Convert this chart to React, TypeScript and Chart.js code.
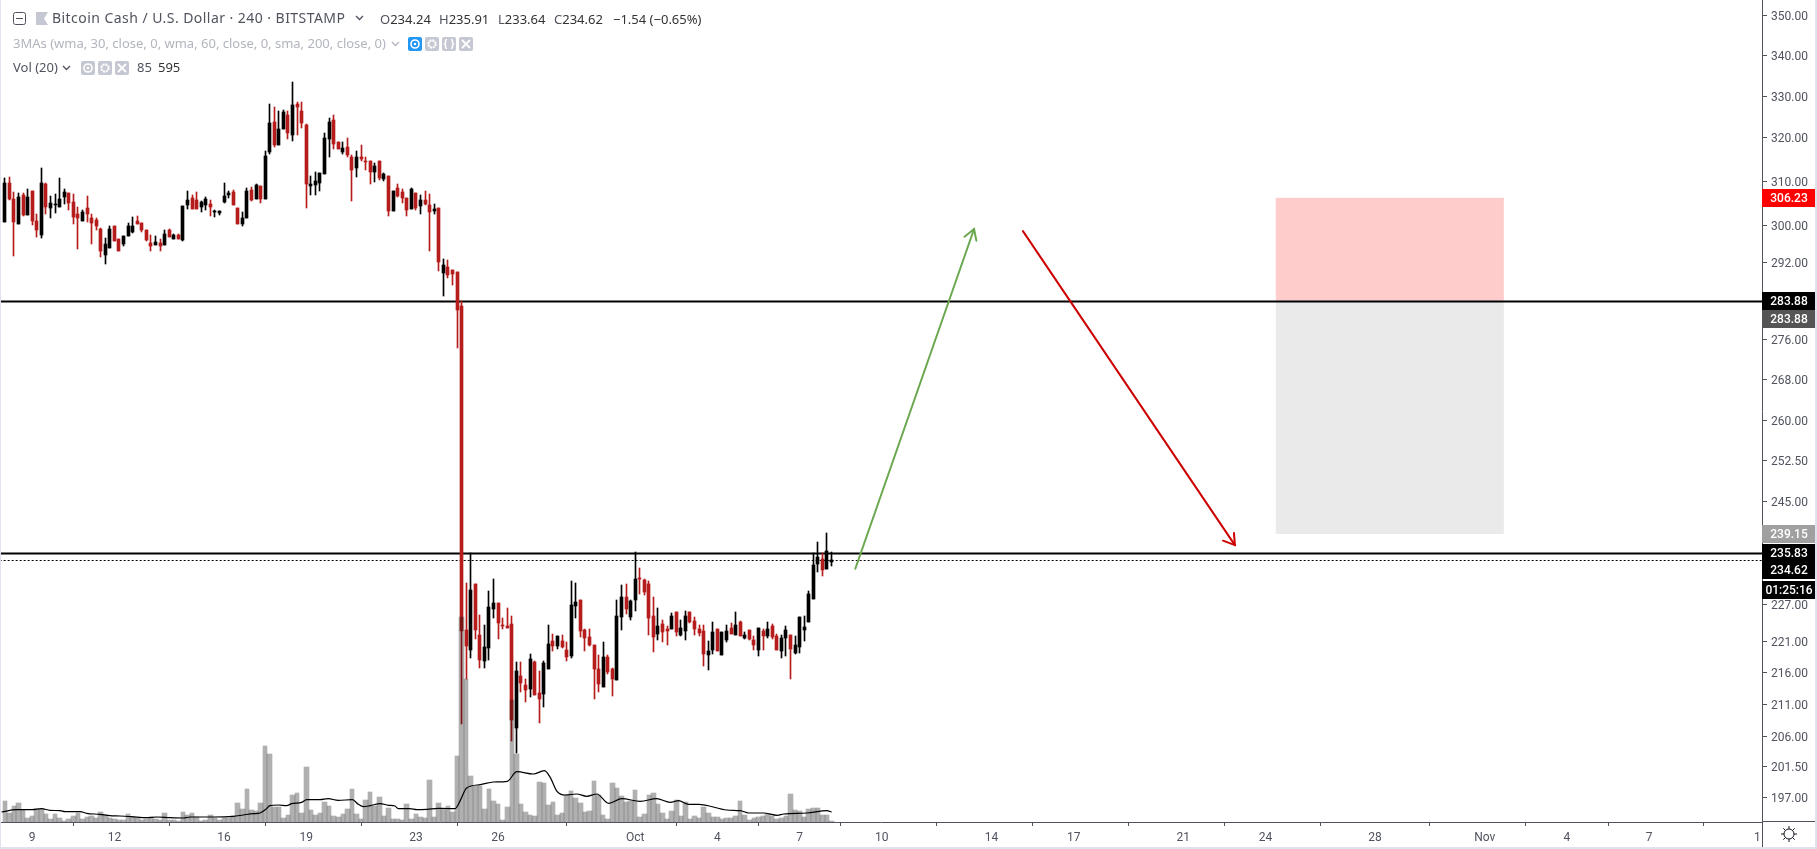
import React, { useEffect, useRef } from "react";
import { Chart, registerables } from "chart.js";

Chart.register(...registerables);

const firstBar = -6;

const highs = [
  310.8,310.9,307.5,307.2,307.2,308.1,307.7,302.6,313,309.55,
  306.6,307.05,310.7,308.2,307.3,307.05,304.15,303.5,306.6,302.6,
  301.7,299.5,297.3,299.95,299.95,297.05,297.7,300.6,301.95,302.15,
  300.6,299.05,297.95,297.7,297.05,299.05,299.3,298.15,298.15,304.4,
  307.7,306.85,307.5,305.5,306.4,305.7,303.5,303.25,309.55,307.7,
  308,303.95,303.05,308.4,308.65,309.3,308.9,316.9,328.06,327.3,
  326.4,326.63,326.4,333.4,328.5,328.5,323.3,311.15,312.1,311.85,
  321.15,324.7,325.4,319,319,320,316,316.9,318.3,315.55,
  314.6,314.15,314.6,311.85,311.15,307.7,309.3,308.2,306.15,308.4,
  307.3,306.85,307.7,307.05,304.85,303.95,292.75,292.5,290.3,289.9,
  283.85,
  230.6,235.75,230.5,225.3,223.65,229.3,231.35,227.3,224.8,226.45,
  225.1,217.65,217.65,214.95,218.95,217.8,216.2,217.8,223.65,222.2,
  221.85,222,220.9,231,230.65,227.8,223,223,220.4,218.8,
  220.9,218.8,216.7,227.8,230.35,230.5,227.8,236,233.25,231.35,
  231,228.3,226.45,224.45,223.45,225.6,225.8,224.45,225.95,225.8,
  224.95,223.65,223.65,221.05,224.1,223,222.5,223.65,223.95,225.8,
  224.3,222.5,222.85,221.85,223.15,223,224.1,223.8,222.2,222,
  223.45,222,221.85,224.95,225.1,229.3,235.8,237.7,235.8,239.3,235.91,
];
const lows = [
  300.9,305.7,293.45,300.45,302.2,302.4,300.15,297.55,297.35,302.6,
  301.8,302.9,304.15,304.85,303.5,300.4,294.8,301.05,300.8,295.9,
  299.05,293.2,291.6,295,296.6,294.35,295.45,297.7,298.4,300.4,
  298.6,296.6,294.55,295.7,294.55,295.7,297.5,297.05,297.05,296.6,
  303.7,303.7,303.7,303.05,303.5,302.15,301.95,302.4,305.05,306.15,
  304.6,300.4,299.95,301.7,305.5,305.95,305.05,305.95,316.25,317.85,
  318.3,322.1,319.7,319.25,320.7,322.35,303.95,306.85,306.85,307.7,
  311.6,315.55,317.4,317.4,316.25,315.55,305.5,310.9,314.6,312.55,
  309.3,309.8,310.25,310,302.15,303.25,306.4,305.05,302.15,303.7,
  303.5,302.6,304.6,294.35,302.6,290.1,284.9,288.7,287.2,274.2,
  207.9,
  214.9,218.3,221.4,216.7,216.7,218,224.8,221.4,223,223.15,
  205.4,203.5,212.9,211.35,212.1,212.4,208.1,210.55,216.55,219.45,
  219.75,219.9,217.8,218.3,224.8,221.7,219.45,220.25,211.8,212.9,
  213.65,215.75,212.25,214.8,222.85,225.45,224.45,225.95,228.8,228.65,
  222,219.25,221.2,220.9,220.4,223,221.85,221.85,221.2,223.95,
  222,221.85,217,216.35,218.95,219.45,218.8,220.9,222.2,222,
  221.85,221.4,221.2,219.6,218.6,219.6,221.55,221.4,219.6,218.3,
  218.6,214.9,218.95,219.1,221.05,224.1,228,232.55,231.9,233.05,233.64,
];
const opens = [
  300.9,309.55,305.95,300.45,306.85,302.4,307.7,301.05,297.95,309.3,
  303.95,304.6,304.15,306.4,307.3,305.25,302.6,301.05,303.95,301.7,
  301.25,299.3,293.65,295,299.95,297.05,295.9,297.7,298.6,301.05,
  300.6,299.05,296.15,295.7,296.15,295.7,299.05,297.05,297.95,296.85,
  304.6,306.15,305.7,304.15,304.6,304.85,303.1,302.85,305.25,306.85,
  307.5,303.95,300.4,301.7,308,305.95,308.9,305.95,316.7,323.8,
  318.3,322.1,325.4,320.7,328.06,326.4,323.05,308.9,309.1,309.55,
  311.6,319.7,324.25,319,316.7,317.85,315.55,313,315.55,314.6,
  314.6,312.1,314.6,310.5,311.15,303.25,308.4,307.5,306.15,303.7,
  307.3,304.4,305.7,304.6,303.25,303.95,289.65,290.95,290.3,289.9,
  282.8,
  222.85,219.6,230.5,222,217.8,219.9,226.3,227.3,223.65,223.45,
  223.8,207.35,215.4,214,213.35,217.65,212.7,212.55,216.55,221.05,
  220.25,221.05,219.6,218.6,226.8,227.8,222.85,221.7,220.4,216.55,
  213.65,218.45,216.55,214.8,224.95,228.3,224.95,227.8,231.55,231.2,
  230.5,225.1,222.2,223.8,223,223,225.8,222,222.65,225.8,
  224.3,223,222.65,218.8,219.6,223,218.8,221.2,223.15,222,
  224.1,221.55,222.85,221.2,219.6,222.65,221.85,223.45,221.85,219.45,
  221.55,222,219.1,220.1,222.85,224.1,228,233.9,234.8,233.05,234.24,
];
const closes = [
  309.55,305.95,300.8,306.4,302.4,306.4,301.05,299.05,309.55,304.2,
  305.05,304.85,305.95,307.5,305.05,301.95,301.7,303.05,302.6,300.6,
  299.95,294.35,295.9,299.3,296.6,294.35,297.7,299.95,299.95,300.4,
  299.05,296.85,295.45,296.4,295.45,298.15,297.5,297.95,297.05,304.4,
  305.7,303.7,303.7,305.25,305.95,304.15,303.25,303.2,306.6,307.3,
  304.6,300.4,301.7,307.7,305.7,309.1,305.95,315.8,323.5,318.3,
  322.1,326.15,321.15,327.8,327.3,323.5,309.3,309.3,310,311.85,
  320,323.8,318.55,317.4,317.6,316,312.55,315.55,315.1,314.45,
  312.1,313.45,310.7,311.6,303.25,307.7,306.6,306.15,303.5,308.2,
  303.95,305.7,304.85,303.05,303.7,292.05,291.4,289.25,289.45,282,
  222.7,
  220.25,229.5,222.85,218,220.1,226.6,227.3,223.95,223.45,223.15,
  208.55,216.2,214.3,213.2,218.15,212.4,211.8,217.5,220.55,220.25,
  221.85,220.1,218.45,227,227.5,222.65,221.55,220.4,216.55,214.1,
  218.45,216.05,214.95,225.1,228.3,226.3,227.65,231.35,231.35,229.15,
  224.8,221.7,223.45,222.5,222.65,225.1,222.5,223.15,225.1,224.1,
  223,222.35,218.95,219.45,222.5,219.45,222.5,222.65,222.2,223.65,
  221.85,222,221.4,220.4,223.15,221.85,223,221.7,219.6,221.55,
  222.85,219.75,220.4,224.95,223.3,228.8,233.75,235.1,232.9,236.15,234.62,
];
const volumes = [
  1240,560,940,1120,700,240,340,760,760,500,
  160,460,240,60,180,340,540,200,280,340,
  260,580,400,260,180,140,100,460,300,220,
  140,180,300,180,140,520,120,100,60,580,
  440,560,300,60,140,400,260,140,260,260,
  340,1120,760,1960,740,660,1120,4540,4060,900,
  900,260,400,1600,1720,520,3280,700,400,520,
  1180,940,340,280,460,760,1960,460,160,1300,
  1780,940,1480,340,820,160,160,140,1060,160,
  460,280,220,2500,280,1120,820,940,600,3940,
  12280,8600,2780,2180,2180,780,2000,1280,1080,140,920,
  7340,4080,1100,620,440,380,2420,2360,1040,1220,
  440,560,1640,1880,1460,1160,620,680,2480,1640,
  440,200,2360,2060,1580,1220,1280,1940,320,500,
  1640,1760,1100,560,200,680,1340,380,1220,200,
  380,260,920,560,320,320,200,260,220,380,
  1280,440,140,220,320,380,500,380,200,260,
  380,1700,740,680,320,800,860,860,440,440,85,
];
const volMaBars = [
  -6.7,-3.4,0,2,3.9,6.1,7.2,10.5,11.9,14.8,17,19.2,21.8,25,27.3,30.2,33.1,34.6,39.7,44,46.2,48.4,49.9,51.3,52,53.9,
  55.7,56.8,59,60.1,63,64.8,67,70.1,71.4,72.5,74,76.2,78,79.4,80.2,82.7,84.2,86.4,88.9,92.2,92.6,93.7,95.1,98.1,
  101,104,106.1,109.7,112.1,113.4,114.9,116.7,119.2,121.4,123.6,126.2,129.1,133.1,136.7,139.7,141.5,143.7,145.9,
  152.1,155,156.9,160.1,163.1,164.5,169.6,174,175,
];
const volMaValues = [
  600,740,740,800,700,680,620,620,520,460,380,360,320,260,300,260,240,300,300,340,420,500,540,800,980,1020,
  980,1100,1180,1340,1340,1400,1300,1340,1060,920,980,1100,1000,960,800,800,740,760,820,800,800,1280,2040,2240,
  2400,2440,3020,2880,3080,2680,1840,1620,1680,1540,1680,1120,1400,1240,1400,1180,1280,1060,1060,
  720,680,540,540,400,480,540,680,595,
];

const xTickBars = [0,18,42,60,84,102,132,150,168,186,210,228,252,270,294,318,336,354,377.7];
const xTickLabels = ["9","12","16","19","23","26","Oct","4","7","10","14","17","21","24","28","Nov","4","7","1"];
const yTicks = [350,340,330,320,310,300,292,276,268,260,252.5,245,227,221,216,211,206,201.5,197];

const entryLevel = 283.88;
const stopLevel = 306.23;
const targetLevel = 239.15;
const resistanceLevel = 235.83;
const lastPrice = 234.62;
const boxBars = [272.2, 322.2];
const greenArrowBars = [180.2, 206.2];
const greenArrowPrices = [233.1, 299.26];
const greenHeadBars = [204.1, 206.2, 206.7];
const greenHeadPrices = [297.57, 299.26, 296.7];
const redArrowBars = [216.9, 263.3];
const redArrowPrices = [298.8, 237.2];
const redHeadBars = [260.7, 263.3, 263.1];
const redHeadPrices = [237.97, 237.2, 239.3];

const tagTexts = ["306.23","283.88","283.88","239.15","235.83","234.62","01:25:16"];
const tagPrices = [stopLevel,entryLevel,entryLevel,targetLevel,resistanceLevel,lastPrice,lastPrice];
const tagShifts = [0,0,18,0,0,10,30];
const tagColors = ["#ff0000","#000000","#555555","#a0a0a0","#000000","#000000","#000000"];

const UP = "#000000";
const DOWN = "#b71c1c";
const TEXT = "#50535e";
const UI_FONT = "'Noto Sans', sans-serif";
const AXIS_FONT = "Roboto, sans-serif";

const barX = (i: number) => i + firstBar;
const colorOf = (i: number) => (closes[i] >= opens[i] ? UP : DOWN);

const snapPlugin = {
  id: "snap",
  afterDatasetsUpdate(chart: any) {
    const half = (chart.scales.x.getPixelForValue(1) - chart.scales.x.getPixelForValue(0)) / 2;
    chart.data.datasets.forEach((ds: any, di: number) => {
      const meta = chart.getDatasetMeta(di);
      if (ds.snap === "bar") {
        const odd = ds.barThickness % 2 === 1;
        meta.data.forEach((el: any) => {
          if (ds.barThickness > 4) {
            const l = Math.round(el.x - half);
            const r = Math.round(el.x + half);
            el.x = (l + r) / 2;
            el.width = r - l;
            el.y = Math.round(el.y);
            el.base = Math.round(el.base);
          } else {
            el.x = odd ? Math.floor(el.x) + 0.5 : Math.round(el.x);
            let a = Math.round(el.y);
            let b = Math.round(el.base);
            if (a === b) b = a + 1;
            el.y = a;
            el.base = b;
          }
        });
      } else if (ds.snapY !== undefined) {
        meta.data.forEach((el: any) => {
          el.y = Math.round(el.y) + ds.snapY;
        });
      }
    });
    const items = chart.scales.y.getLabelItems(chart.chartArea);
    items.forEach((item: any) => {
      item.options.translation[1] += 1.5;
    });
  },
};

const tagPlugin = {
  id: "tags",
  afterDraw(chart: any) {
    const { ctx, scales } = chart;
    const y = scales.y;
    ctx.save();
    ctx.textAlign = "center";
    ctx.textBaseline = "middle";
    tagTexts.forEach((t, i) => {
      const c = Math.round(y.getPixelForValue(tagPrices[i])) + tagShifts[i];
      ctx.fillStyle = tagColors[i];
      ctx.fillRect(1762, c - 9, 53, 18);
      ctx.fillStyle = "#ffffff";
      ctx.font = `500 12px ${AXIS_FONT}`;
      ctx.fillText(t, 1789, c + 1);
    });
    ctx.restore();
  },
};

const flatLine = (price: number, color: string, width: number, dash: number[], snapY: number, order: number) => ({
  type: "line",
  data: [{ x: -8, y: price }, { x: 379, y: price }],
  borderColor: color,
  borderWidth: width,
  borderDash: dash,
  pointRadius: 0,
  snapY,
  order,
  yAxisID: "y",
});

const polyLine = (xs: number[], ys: number[], color: string, order: number) => ({
  type: "line",
  data: xs.map((x, i) => ({ x, y: ys[i] })),
  borderColor: color,
  borderWidth: 2,
  borderCapStyle: "round",
  borderJoinStyle: "miter",
  pointRadius: 0,
  order,
  yAxisID: "y",
});

const boxFill = (top: number, bottom: number, color: string) => ({
  type: "line",
  data: [{ x: boxBars[0], y: top }, { x: boxBars[1], y: top }],
  borderWidth: 0,
  pointRadius: 0,
  backgroundColor: color,
  fill: { value: bottom },
  order: 8,
  yAxisID: "y",
});

const Glyph = ({ left, top, kind, color = "#c5c8d2" }: any) => (
  <svg width="14" height="14" viewBox="0 0 14 14" style={{ position: "absolute", left, top }}>
    <rect x="0" y="0" width="14" height="14" rx="2" fill={color} />
    {kind === "eye" && (
      <>
        <circle cx="7" cy="7" r="4" fill="none" stroke="#fff" strokeWidth="1.6" />
        <circle cx="7" cy="7" r="1.3" fill="#fff" />
      </>
    )}
    {kind === "gear" && (
      <>
        <circle cx="7" cy="7" r="3.6" fill="none" stroke="#fff" strokeWidth="2.2" strokeDasharray="2 0.8" />
      </>
    )}
    {kind === "code" && (
      <>
        <path d="M5 2.5 Q3.5 2.5 3.5 4.5 V6 L2.5 7 L3.5 8 V9.5 Q3.5 11.5 5 11.5" fill="none" stroke="#fff" strokeWidth="1.5" />
        <path d="M9 2.5 Q10.5 2.5 10.5 4.5 V6 L11.5 7 L10.5 8 V9.5 Q10.5 11.5 9 11.5" fill="none" stroke="#fff" strokeWidth="1.5" />
      </>
    )}
    {kind === "x" && <path d="M3 3 L11 11 M11 3 L3 11" stroke="#fff" strokeWidth="1.8" />}
  </svg>
);

const Chevron = ({ left, top, color }: any) => (
  <svg width="9" height="6" viewBox="0 0 9 6" style={{ position: "absolute", left, top }}>
    <path d="M1 1 L4.5 4.5 L8 1" fill="none" stroke={color} strokeWidth="1.3" />
  </svg>
);

const Label = ({ left, center, color, size = 14, spacing = 0, children }: any) => (
  <div
    style={{
      position: "absolute",
      left,
      top: center - 10,
      height: 20,
      lineHeight: "20px",
      fontFamily: UI_FONT,
      fontSize: size,
      letterSpacing: spacing,
      color,
      whiteSpace: "pre",
    }}
  >
    {children}
  </div>
);

export default function App() {
  const ref = useRef<HTMLCanvasElement | null>(null);

  useEffect(() => {
    document.body.style.margin = "0";
    const xs = closes.map((_, i) => barX(i));
    const chart = new Chart(ref.current as any, {
      type: "bar",
      plugins: [snapPlugin, tagPlugin],
      data: {
        datasets: [
          {
            type: "line",
            data: volMaBars.map((x, i) => ({ x, y: volMaValues[i] })),
            borderColor: "#000000",
            borderWidth: 1.2,
            pointRadius: 0,
            cubicInterpolationMode: "monotone",
            yAxisID: "yVol",
            order: 0,
          },
          {
            data: xs.map((x, i) => ({ x, y: volumes[i] })),
            backgroundColor: "rgba(0,0,0,0.31)",
            barThickness: 5,
            grouped: false,
            snap: "bar",
            yAxisID: "yVol",
            order: 1,
          },
          polyLine(greenArrowBars, greenArrowPrices, "#6aa84f", 2),
          polyLine(greenHeadBars, greenHeadPrices, "#6aa84f", 2),
          polyLine(redArrowBars, redArrowPrices, "#cc0000", 2),
          polyLine(redHeadBars, redHeadPrices, "#cc0000", 2),
          {
            data: xs.map((x, i) => ({ x, y: [opens[i], closes[i]] })),
            backgroundColor: xs.map((_, i) => colorOf(i)),
            barThickness: 3,
            grouped: false,
            snap: "bar",
            yAxisID: "y",
            order: 3,
          },
          {
            data: xs.map((x, i) => ({ x, y: [lows[i], highs[i]] })),
            backgroundColor: xs.map((_, i) => colorOf(i)),
            barThickness: 1,
            grouped: false,
            snap: "bar",
            yAxisID: "y",
            order: 4,
          },
          flatLine(lastPrice, "#000000", 1, [2, 2], 0.5, 5),
          flatLine(entryLevel, "#000000", 2, [], 0.5, 6),
          flatLine(resistanceLevel, "#000000", 2, [], 0.5, 6),
          boxFill(stopLevel, entryLevel, "rgba(255,0,0,0.2)"),
          boxFill(entryLevel, targetLevel, "rgba(128,128,128,0.17)"),
        ],
      } as any,
      options: {
        responsive: false,
        animation: false,
        events: [],
        layout: { padding: 0, autoPadding: false },
        plugins: { legend: { display: false }, tooltip: { enabled: false } },
        scales: {
          x: {
            type: "linear",
            position: "bottom",
            bounds: "data",
            offset: false,
            min: -7.05,
            max: 378.7,
            afterFit: (s: any) => { s.height = 27; s.paddingLeft = 0; s.paddingRight = 0; },
            afterBuildTicks: (s: any) => { s.ticks = xTickBars.map((value) => ({ value })); },
            grid: { display: true, drawOnChartArea: false, drawTicks: true, tickLength: 4, tickColor: TEXT },
            border: { color: TEXT, width: 1 },
            ticks: {
              autoSkip: false,
              maxRotation: 0,
              color: TEXT,
              padding: 5,
              font: { family: AXIS_FONT, size: 12 },
              callback: (_: any, i: number) => xTickLabels[i],
            },
          },
          y: {
            type: "logarithmic",
            position: "right",
            bounds: "data",
            min: 193.5,
            max: 354.14,
            afterFit: (s: any) => { s.width = 55; s.paddingTop = 0; s.paddingBottom = 0; },
            afterBuildTicks: (s: any) => { s.ticks = yTicks.map((value) => ({ value })); },
            grid: { display: true, drawOnChartArea: false, drawTicks: true, tickLength: 5, tickColor: TEXT },
            border: { color: TEXT, width: 1 },
            ticks: {
              autoSkip: false,
              color: TEXT,
              padding: 4,
              font: { family: AXIS_FONT, size: 12 },
              callback: (v: any) => Number(v).toFixed(2),
            },
          },
          yVol: {
            type: "linear",
            display: false,
            position: "right",
            min: 0,
            max: 49320,
          },
        },
      } as any,
    });
    return () => chart.destroy();
  }, []);

  return (
    <div style={{ position: "relative", width: 1817, height: 849, overflow: "hidden", background: "#fff" }}>
      <canvas ref={ref} width={1817} height={849} style={{ display: "block", position: "absolute", left: 0, top: 0 }} />
      <div style={{ position: "absolute", left: 0, top: 0, width: 1, height: 849, background: "#e0e3eb" }} />
      <div style={{ position: "absolute", right: 0, top: 0, width: 2, height: 849, background: "#e0e3eb" }} />
      <div style={{ position: "absolute", left: 0, bottom: 0, width: 1817, height: 2, background: "#e0e3eb" }} />
      <div style={{ position: "absolute", left: 1762, top: 822, width: 1, height: 25, background: TEXT }} />
      <div style={{ position: "absolute", left: 1762, top: 821, width: 53, height: 1, background: TEXT }} />

      <svg width="13" height="13" style={{ position: "absolute", left: 13, top: 12 }}>
        <rect x="0.5" y="0.5" width="12" height="12" rx="2" fill="none" stroke={TEXT} />
        <path d="M3 6.5 H10" stroke={TEXT} />
      </svg>
      <svg width="12" height="13" style={{ position: "absolute", left: 36, top: 12 }}>
        <path d="M0 0 H12 L8 6.5 L12 13 H0 Z" fill="#c5c8d2" />
      </svg>
      <Label left={52} center={18} color={TEXT} size={14} spacing={0.45}>Bitcoin Cash / U.S. Dollar · 240 · BITSTAMP</Label>
      <Chevron left={355} top={15} color={TEXT} />
      <Label left={380} center={19} color="#333" size={13}><span style={{ color: TEXT }}>O</span>234.24</Label>
      <Label left={439} center={19} color="#333" size={13}><span style={{ color: TEXT }}>H</span>235.91</Label>
      <Label left={498} center={19} color="#333" size={13}><span style={{ color: TEXT }}>L</span>233.64</Label>
      <Label left={554} center={19} color="#333" size={13}><span style={{ color: TEXT }}>C</span>234.62</Label>
      <Label left={613} center={19} color="#333" size={13}>−1.54 (−0.65%)</Label>

      <Label left={13} center={43} color="#b2b5be" size={13}>3MAs (wma, 30, close, 0, wma, 60, close, 0, sma, 200, close, 0)</Label>
      <Chevron left={391} top={41} color="#b2b5be" />
      <Glyph left={408} top={37} kind="eye" color="#2196f3" />
      <Glyph left={425} top={37} kind="gear" />
      <Glyph left={442} top={37} kind="code" />
      <Glyph left={459} top={37} kind="x" />

      <Label left={13} center={67} color={TEXT} size={13}>Vol (20)</Label>
      <Chevron left={62} top={65} color={TEXT} />
      <Glyph left={81} top={61} kind="eye" />
      <Glyph left={98} top={61} kind="gear" />
      <Glyph left={115} top={61} kind="x" />
      <Label left={137} center={67} color={TEXT} size={13}>85</Label>
      <Label left={158} center={67} color="#333" size={13}>595</Label>

      <svg width="18" height="18" viewBox="0 0 18 18" style={{ position: "absolute", left: 1780, top: 825 }}>
        <circle cx="9" cy="9" r="5" fill="none" stroke="#131722" strokeWidth="1" />
        <path d="M9 1 V4 M9 14 V17 M1 9 H4 M14 9 H17 M3.3 3.3 L5.5 5.5 M12.5 12.5 L14.7 14.7 M14.7 3.3 L12.5 5.5 M5.5 12.5 L3.3 14.7" stroke="#131722" strokeWidth="1" />
      </svg>
    </div>
  );
}
